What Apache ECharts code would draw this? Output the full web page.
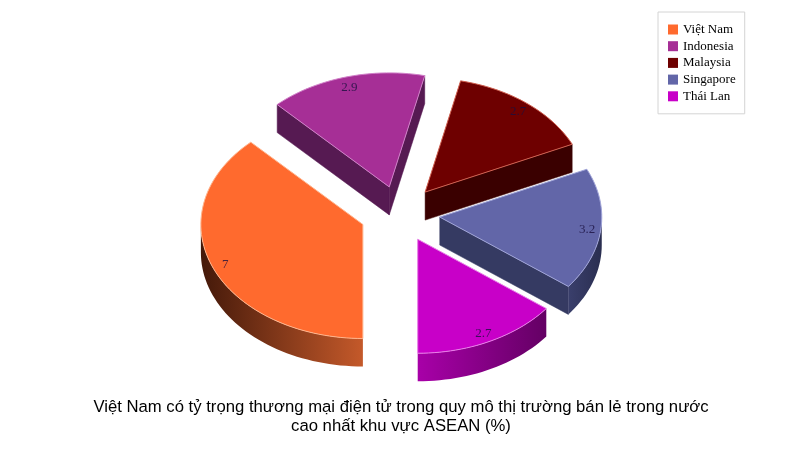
<!DOCTYPE html>
<html><head><meta charset="utf-8">
<style>html,body{margin:0;background:#fff}#c{width:800px;height:450px}</style>
<script src="https://cdn.jsdelivr.net/npm/echarts@6/dist/echarts.min.js"></script>
</head><body><div id="c"></div>
<script>
const categories = ['Việt Nam','Indonesia','Malaysia','Singapore','Thái Lan'];
const values = [7, 2.9, 2.7, 3.2, 2.7];
const topColors = ['#ff6a2e','#a62f96','#6e0000','#6266a8','#c800c8'];
const edgeColors = ['#ffb48c','#d080c8','#d06050','#a0a4d8','#e880e8'];
const wallColors = ['#6a2c12','#561a52','#3a0000','#353a62','#6a006a'];
const arcLeft = ['#44190a','#561a52','#3a0000','#3a3f6c','#a800a8'];
const arcRight = ['#c4592a','#561a52','#3a0000','#2a2e50','#640064'];
const drawOrder = [1,2,0,3,4];
const cx=400, cy=214, rx=162, ry=114, depth=28, explode=40, labelR=0.915;
const total = values.reduce((a,b)=>a+b,0);
const rad = d => d*Math.PI/180;
const pt = (ox,oy,deg,f=1,dy=0)=>[ox+Math.sin(rad(deg))*rx*f, oy-Math.cos(rad(deg))*ry*f+dy];

function sliceRenderer(i){
  return function(params, api){
    const v = api.value(0);
    let before = 0; for(let k=0;k<i;k++) before += values[k];
    let a0 = 180 + before/total*360;
    if(a0>=360) a0-=360;
    const a1 = a0 + v/total*360, mid=(a0+a1)/2;
    const ox = cx + Math.sin(rad(mid))*explode, oy = cy - Math.cos(rad(mid))*explode*ry/rx;
    const arc=(s,e,dy)=>{const out=[];const n=Math.max(2,Math.ceil(Math.abs(e-s)/2));
      for(let j=0;j<=n;j++) out.push(pt(ox,oy,s+(e-s)*j/n,1,dy));return out;};
    const kids=[];
    const radial=(deg)=>({type:'polygon',shape:{points:[[ox,oy],pt(ox,oy,deg),pt(ox,oy,deg,1,depth),[ox,oy+depth]]},
      style:{fill:wallColors[i],stroke:wallColors[i],lineWidth:0.5}});
    if(Math.sin(rad(a0))<-0.01) kids.push(radial(a0));
    if(Math.sin(rad(a1))>0.01) kids.push(radial(a1));
    const s=Math.max(a0,90), e=Math.min(a1,270);
    if(e>s){
      kids.push({type:'polygon',shape:{points:arc(s,e,0).concat(arc(e,s,depth))},
        style:{fill:new echarts.graphic.LinearGradient(0,0,1,0,[{offset:0,color:arcLeft[i]},{offset:1,color:arcRight[i]}])}});
    }
    kids.push({type:'polygon',shape:{points:[[ox,oy]].concat(arc(a0,a1,0))},
      style:{fill:topColors[i],stroke:edgeColors[i],lineWidth:1}});
    const lp=pt(ox,oy,mid,labelR);
    kids.push({type:'text',style:{text:String(v),x:lp[0],y:lp[1]+1,align:'center',verticalAlign:'middle',
      fontFamily:'Liberation Serif',fontSize:13,fill:'#1a1040',opacity:0.8}});
    return {type:'group',children:kids};
  };
}
const series = drawOrder.map((i,pos)=>({
  type:'custom',name:categories[i],coordinateSystem:'none',z:2+pos,
  itemStyle:{color:topColors[i]},
  data:[[values[i]]],renderItem:sliceRenderer(i),silent:true
}));
const chart = echarts.init(document.getElementById('c'));
chart.setOption({
  animation:false,backgroundColor:'#fff',
  title:{text:'Việt Nam có tỷ trọng thương mại điện tử trong quy mô thị trường bán lẻ trong nước\ncao nhất khu vực ASEAN (%)',
    left:396,textAlign:'center',top:393,
    textStyle:{fontFamily:'Liberation Sans',fontSize:16.7,fontWeight:'normal',color:'#000',lineHeight:19}},
  legend:{data:categories,orient:'vertical',left:658,top:12,padding:[11,9,11,10],itemGap:3.7,itemWidth:10,itemHeight:10,icon:'rect',
    borderColor:'#d4d4d4',borderWidth:1,backgroundColor:'#fff',
    textStyle:{fontFamily:'Liberation Serif',fontSize:13,color:'#000'}},
  series
});
</script></body></html>
